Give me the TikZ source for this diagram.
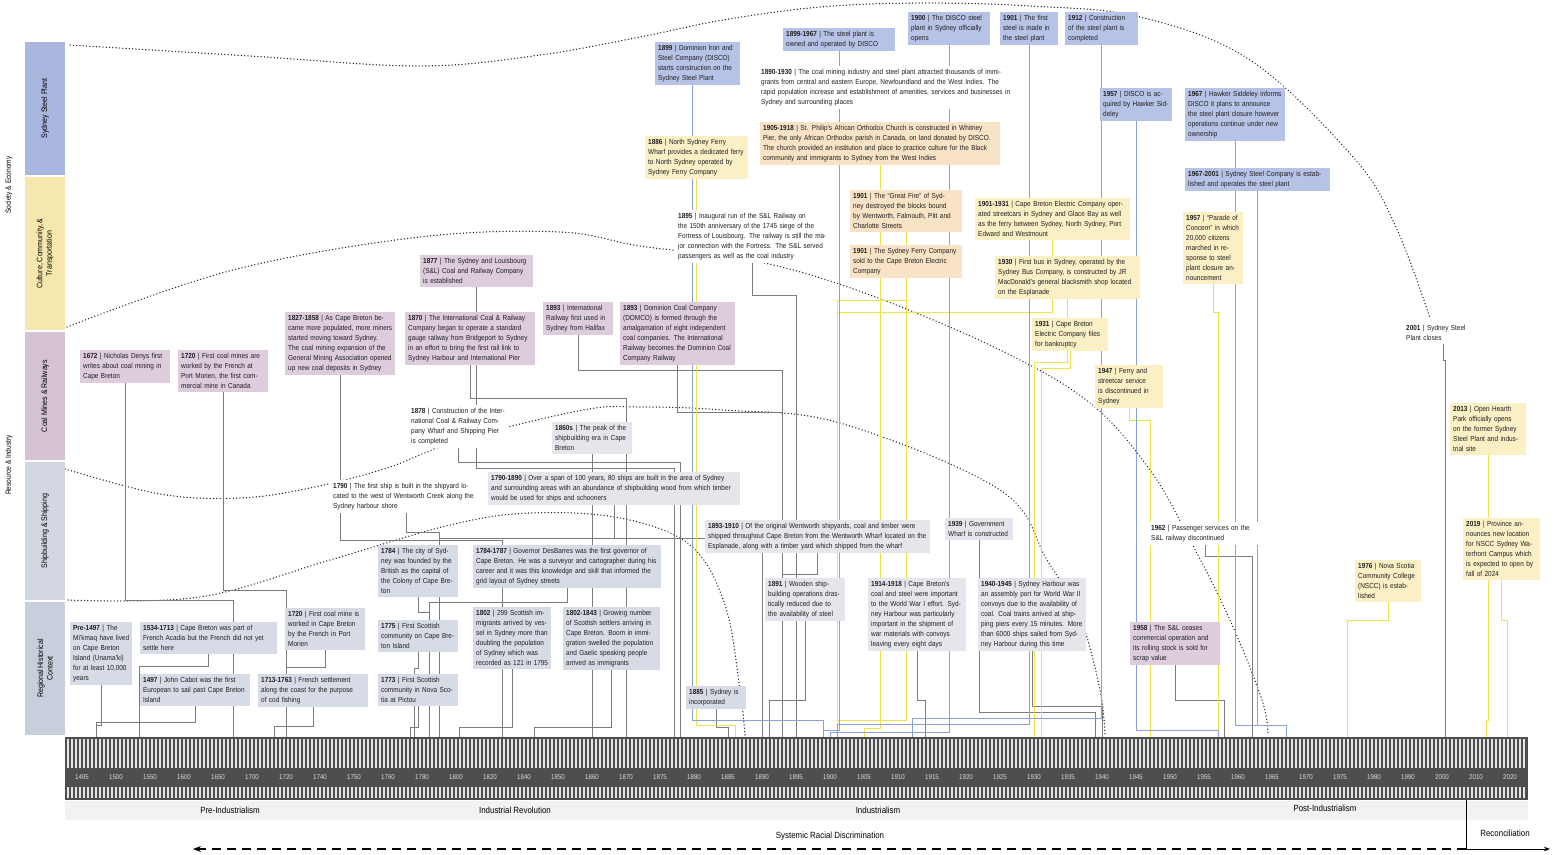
\documentclass[tikz,border=0pt]{standalone}
\usepackage{fontspec}
\setmainfont{Liberation Sans}[FakeStretch=0.88]
\usetikzlibrary{arrows.meta}

\pgfdeclarelayer{bg}
\pgfsetlayers{bg,main}

\definecolor{steelc}{HTML}{B7C3E6}
\definecolor{cultc}{HTML}{FBEFC6}
\definecolor{cultoc}{HTML}{F9E3C6}
\definecolor{coalc}{HTML}{DCCCDC}
\definecolor{shipc}{HTML}{E4E6EC}
\definecolor{regnc}{HTML}{D7DBE5}
\definecolor{stripsteel}{HTML}{A9B6DE}
\definecolor{stripcult}{HTML}{F6E7AE}
\definecolor{stripcoal}{HTML}{D5C3D4}
\definecolor{stripship}{HTML}{D3D7E2}
\definecolor{stripreg}{HTML}{C8CEDB}
\definecolor{lkgrey}{HTML}{7C7C7C}
\definecolor{lkblue}{HTML}{8CA0DA}
\definecolor{lkyel}{HTML}{EDE24A}
\definecolor{barc}{HTML}{4E4E4E}

\newcommand{\evfont}{\fontsize{7.3}{10}\selectfont}
\newcommand{\evyr}[1]{\textbf{#1}}

\tikzset{
  ev/.style={font=\evfont, align=left, inner sep=3pt, anchor=north west, text=black!88},
  steel/.style={ev, fill=steelc},
  cult/.style={ev, fill=cultc},
  culto/.style={ev, fill=cultoc},
  coal/.style={ev, fill=coalc},
  ship/.style={ev, fill=shipc},
  regn/.style={ev, fill=regnc},
  bare/.style={ev, fill=white},
  bandlab/.style={rotate=90, minimum height=40pt, inner sep=1pt, align=center,
    font=\fontsize{8}{9.5}\selectfont},
  lk/.style={draw=lkgrey, line width=0.6pt},
  lkb/.style={draw=lkblue, line width=1pt},
  lky/.style={draw=lkyel, line width=1pt},
  dotcurve/.style={draw=black!85, line width=1.4pt, dash pattern=on 0.1pt off 3.2pt, line cap=round},
  yrlab/.style={font=\fontsize{7}{8}\selectfont, text=white!85!black, inner sep=0pt},
  perlab/.style={font=\fontsize{9}{10}\selectfont, inner sep=1pt},
}

\begin{document}
\begin{tikzpicture}[x=1pt,y=-1pt]
\useasboundingbox (0,0) rectangle (1562,854);

% side bands
\node[rotate=90, font=\fontsize{7.5}{9}\selectfont] (soc) at (9,185) {Society \& Economy};
\node[rotate=90, font=\fontsize{7.5}{9}\selectfont] (res) at (9,465) {Resource \& Industry};
\node[bandlab, fill=stripsteel, minimum width=133pt] (bsteel) at (45,108.5) {Sydney Steel Plant};
\node[bandlab, fill=stripcult, minimum width=153pt] (bcult) at (45,253.5) {Culture, Community, \&\\Transportation};
\node[bandlab, fill=stripcoal, minimum width=128pt] (bcoal) at (45,396) {Coal Mines \& Railways};
\node[bandlab, fill=stripship, minimum width=138pt] (bship) at (45,531) {Shipbuilding \& Shipping};
\node[bandlab, fill=stripreg, minimum width=133pt] (breg) at (45,668.5) {Regional Historical\\Context};

% timeline bar
\node[fill=barc, minimum width=1463pt, minimum height=63pt, inner sep=0pt, anchor=north west] (bar) at (65,737) {};
\foreach \x in {68,72,...,1526} {
  \draw[white!90!black, line width=1.3pt] (\x,739) -- (\x,768);
  \draw[white!90!black, line width=1.3pt] (\x,787) -- (\x,798);
}
\foreach \yy [count=\i from 0] in {1495,1500,1550,1600,1650,1700,1720,1740,1750,1760,1780,1800,1820,1840,1850,1860,1870,1875,1880,1885,1890,1895,1900,1905,1910,1915,1920,1925,1930,1935,1940,1945,1950,1955,1960,1965,1970,1975,1980,1990,2000,2010,2020}
  \node[yrlab] (yl\i) at ({82+34*\i},777) {\yy};

% periods
\fill[gray!10] (65,801) rectangle (1528,820);
\node[perlab] (pre) at (230,810) {Pre-Industrialism};
\node[perlab] (irev) at (515,810) {Industrial Revolution};
\node[perlab] (ind) at (878,810) {Industrialism};
\node[perlab] (post) at (1325,808) {Post-Industrialism};
\node[perlab] (sysrd) at (830,836) {Systemic Racial Discrimination};
\node[perlab] (recon) at (1505,833) {Reconciliation};

\coordinate (recTop) at (1466,800);
\coordinate (recCorner) at (1466,849);
\coordinate (recEnd) at (1550,849);
\coordinate (sysEnd) at (193,849);
\draw[line width=0.9pt] (recTop) -- (recCorner);
\draw[line width=0.9pt, -{Stealth[length=6pt]}] (recCorner) -- (recEnd);
\draw[line width=1.5pt, dash pattern=on 9pt off 6pt, -{Stealth[length=8pt]}] (recCorner) -- (sysEnd);

% year anchors on the bar
\foreach \yy/\x in {1497/96,1534/139,1672/233,1713/274,1720/286,1773/410,1775/414,1784/429,1790/439,
  1802/459,1827/502,1843/534,1860/592,1870/626,1877/674,1878/680,1885/728,1886/735,1890/762,
  1891/769,1893/782,1895/796,1899/823,1900/830,1901/837,1905/864,1912/912,1914/925,1930/1034,
  1931/1041,1939/1095,1940/1102,1947/1150,1957/1218,1958/1224,1962/1252,1967/1286,1976/1347,
  2001/1445,2013/1486,2019/1507}
  \coordinate (t\yy) at (\x,737);

% Sydney Steel Plant
\node[steel, text width=79pt] (b1) at (655,42) {\evyr{1899} | Dominion Iron and Steel Company (DISCO) starts construction on the Sydney Steel Plant};
\node[steel, text width=106pt] (b2) at (783,28) {\evyr{1899-1967} | The steel plant is owned and operated by DISCO};
\node[steel, text width=76pt] (b3) at (908,12) {\evyr{1900} | The DISCO steel plant in Sydney officially opens};
\node[steel, text width=52pt] (b4) at (1000,12) {\evyr{1901} | The first steel is made in the steel plant};
\node[steel, text width=67pt] (b5) at (1065,12) {\evyr{1912} | Construction of the steel plant is completed};
\node[steel, text width=66pt] (b6) at (1100,88) {\evyr{1957} | DISCO is acquired by Hawker Siddeley};
\node[steel, text width=94pt] (b7) at (1185,88) {\evyr{1967} | Hawker Siddeley informs DISCO it plans to announce the steel plant closure however operations continue under new ownership};
\node[steel, text width=139pt] (b8) at (1185,168) {\evyr{1967-2001} | Sydney Steel Company is established and operates the steel plant};
\node[bare, text width=252pt] (t1) at (758,66) {\evyr{1890-1930} | The coal mining industry and steel plant attracted thousands of immigrants from central and eastern Europe, Newfoundland and the West Indies. The rapid population increase and establishment of amenities, services and businesses in Sydney and surrounding places};
\node[bare, text width=74pt] (t3) at (1403,322) {\evyr{2001} | Sydney Steel Plant closes};

% Culture, Community, & Transportation
\node[cult, text width=97pt] (y1) at (645,136) {\evyr{1886} | North Sydney Ferry Wharf provides a dedicated ferry to North Sydney operated by Sydney Ferry Company};
\node[culto, text width=234pt] (y2) at (760,122) {\evyr{1905-1918} | St. Philip's African Orthodox Church is constructed in Whitney Pier, the only African Orthodox parish in Canada, on land donated by DISCO. The church provided an institution and place to practice culture for the Black community and immigrants to Sydney from the West Indies};
\node[culto, text width=106pt] (y3) at (850,190) {\evyr{1901} | The “Great Fire” of Sydney destroyed the blocks bound by Wentworth, Falmouth, Pitt and Charlotte Streets};
\node[culto, text width=106pt] (y4) at (850,245) {\evyr{1901} | The Sydney Ferry Company sold to the Cape Breton Electric Company};
\node[bare, text width=149pt] (t2) at (675,210) {\evyr{1895} | Inaugural run of the S\&L Railway on the 150th anniversary of the 1745 siege of the Fortress of Louisbourg. The railway is still the major connection with the Fortress. The S\&L served passengers as well as the coal industry};
\node[cult, text width=149pt] (y5) at (975,198) {\evyr{1901-1931} | Cape Breton Electric Company operated streetcars in Sydney and Glace Bay as well as the ferry between Sydney, North Sydney, Port Edward and Westmount};
\node[cult, text width=139pt] (y6) at (995,256) {\evyr{1930} | First bus in Sydney, operated by the Sydney Bus Company, is constructed by JR MacDonald's general blacksmith shop located on the Esplanade};
\node[cult, text width=70pt] (y7) at (1032,318) {\evyr{1931} | Cape Breton Electric Company files for bankruptcy};
\node[cult, text width=62pt] (y8) at (1095,365) {\evyr{1947} | Ferry and streetcar service is discontinued in Sydney};
\node[cult, text width=54pt] (y9) at (1183,212) {\evyr{1957} | “Parade of Concern” in which 20,000 citizens marched in response to steel plant closure announcement};
\node[cult, text width=60pt] (y10) at (1355,560) {\evyr{1976} | Nova Scotia Community College (NSCC) is established};
\node[cult, text width=70pt] (y11) at (1450,403) {\evyr{2013} | Open Hearth Park officially opens on the former Sydney Steel Plant and industrial site};
\node[cult, text width=71pt] (y12) at (1463,518) {\evyr{2019} | Province announces new location for NSCC Sydney Waterfront Campus which is expected to open by fall of 2024};

% Coal Mines & Railways
\node[coal, text width=84pt] (m1) at (80,350) {\evyr{1672} | Nicholas Denys first writes about coal mining in Cape Breton};
\node[coal, text width=84pt] (m2) at (178,350) {\evyr{1720} | First coal mines are worked by the French at Port Morien, the first commercial mine in Canada};
\node[coal, text width=104pt] (m3) at (285,312) {\evyr{1827-1858} | As Cape Breton became more populated, more miners started moving toward Sydney. The coal mining expansion of the General Mining Association opened up new coal deposits in Sydney};
\node[coal, text width=107pt] (m4) at (420,255) {\evyr{1877} | The Sydney and Louisbourg (S\&L) Coal and Railway Company is established};
\node[coal, text width=124pt] (m5) at (405,312) {\evyr{1870} | The International Coal \& Railway Company began to operate a standard gauge railway from Bridgeport to Sydney in an effort to bring the first rail link to Sydney Harbour and International Pier};
\node[coal, text width=64pt] (m6) at (543,302) {\evyr{1893} | International Railway first used in Sydney from Halifax};
\node[coal, text width=109pt] (m7) at (620,302) {\evyr{1893} | Dominion Coal Company (DOMCO) is formed through the amalgamation of eight independent coal companies. The International Railway becomes the Dominion Coal Company Railway};
\node[coal, text width=84pt] (m8) at (1130,622) {\evyr{1958} | The S\&L ceases commercial operation and its rolling stock is sold for scrap value};
\node[bare, text width=94pt] (t4) at (408,405) {\evyr{1878} | Construction of the International Coal \& Railway Company Wharf and Shipping Pier is completed};

% Shipbuilding & Shipping
\node[ship, text width=74pt] (s1) at (552,422) {\evyr{1860s} | The peak of the shipbuilding era in Cape Breton};
\node[bare, text width=146pt] (s2) at (330,480) {\evyr{1790} | The first ship is built in the shipyard located to the west of Wentworth Creek along the Sydney harbour shore};
\node[ship, text width=246pt] (s3) at (488,472) {\evyr{1790-1890} | Over a span of 100 years, 80 ships are built in the area of Sydney and surrounding areas with an abundance of shipbuilding wood from which timber would be used for ships and schooners};
\node[ship, text width=219pt] (s4) at (705,520) {\evyr{1893-1910} | Of the original Wentworth shipyards, coal and timber were shipped throughout Cape Breton from the Wentworth Wharf located on the Esplanade, along with a timber yard which shipped from the wharf};
\node[ship, text width=62pt] (s5) at (945,518) {\evyr{1939} | Government Wharf is constructed};
\node[ship, text width=74pt] (s6) at (765,578) {\evyr{1891} | Wooden shipbuilding operations drastically reduced due to the availability of steel};
\node[ship, text width=92pt] (s7) at (868,578) {\evyr{1914-1918} | Cape Breton's coal and steel were important to the World War I effort. Sydney Harbour was particularly important in the shipment of war materials with convoys leaving every eight days};
\node[ship, text width=102pt] (s8) at (978,578) {\evyr{1940-1945} | Sydney Harbour was an assembly port for World War II convoys due to the availability of coal. Coal trains arrived at shipping piers every 15 minutes. More than 6000 ships sailed from Sydney Harbour during this time};
\node[bare, text width=109pt] (t5) at (1148,522) {\evyr{1962} | Passenger services on the S\&L railway discontinued};

% Regional Historical Context
\node[regn, text width=56pt] (r1) at (70,622) {\evyr{Pre-1497} | The Mi'kmaq have lived on Cape Breton Island (Unama'ki) for at least 10,000 years};
\node[regn, text width=131pt] (r2) at (140,622) {\evyr{1534-1713} | Cape Breton was part of French Acadia but the French did not yet settle here};
\node[regn, text width=104pt] (r3) at (140,674) {\evyr{1497} | John Cabot was the first European to sail past Cape Breton Island};
\node[regn, text width=104pt] (r5) at (258,674) {\evyr{1713-1763} | French settlement along the coast for the purpose of cod fishing};
\node[regn, text width=74pt] (r4) at (285,608) {\evyr{1720} | First coal mine is worked in Cape Breton by the French in Port Morien};
\node[regn, text width=74pt] (r6) at (378,545) {\evyr{1784} | The city of Sydney was founded by the British as the capital of the Colony of Cape Breton};
\node[regn, text width=74pt] (r7) at (378,620) {\evyr{1775} | First Scottish community on Cape Breton Island};
\node[regn, text width=74pt] (r8) at (378,674) {\evyr{1773} | First Scottish community in Nova Scotia at Pictou};
\node[regn, text width=182pt] (r9) at (473,545) {\evyr{1784-1787} | Governor DesBarres was the first governor of Cape Breton. He was a surveyor and cartographer during his career and it was this knowledge and skill that informed the grid layout of Sydney streets};
\node[regn, text width=72pt] (r10) at (473,607) {\evyr{1802} | 299 Scottish immigrants arrived by vessel in Sydney more than doubling the population of Sydney which was recorded as 121 in 1795};
\node[regn, text width=91pt] (r11) at (563,607) {\evyr{1802-1843} | Growing number of Scottish settlers arriving in Cape Breton. Boom in immigration swelled the population and Gaelic speaking people arrived as immigrants};
\node[regn, text width=54pt] (r12) at (686,686) {\evyr{1885} | Sydney is incorporated};

\begin{pgfonlayer}{bg}
% dotted period curves
\draw[dotcurve] plot[smooth, tension=0.6] coordinates {(70,45) (250,56) (420,66) (540,55) (640,37) (723,20) (820,7) (920,3) (1030,6) (1140,17) (1250,60) (1353,157) (1395,225) (1430,318)};
\draw[dotcurve] plot[smooth, tension=0.6] coordinates {(67,327) (233,270) (420,237) (560,232) (640,246) (760,262) (870,295) (1000,350) (1090,403) (1150,470) (1190,540) (1230,620) (1262,700) (1268,735)};
\draw[dotcurve] plot[smooth, tension=0.6] coordinates {(62,468) (160,494) (240,498) (310,488) (387,468) (460,440) (583,410) (640,407) (723,410) (840,423) (1000,490) (1047,560) (1080,617) (1100,690) (1105,735)};
\draw[dotcurve] plot[smooth, tension=0.6] coordinates {(68,600) (200,597) (330,560) (450,525) (530,513) (620,518) (690,545) (725,605) (740,690) (745,735)};

% regional
\draw[lk] (r1.south) -- (r1.south |- 0,725) -| (t1497);
\draw[lk] (r2.south) -- (r2.south |- 0,666) -| (t1534);
\draw[lk] (r3.south) -- (r3.south |- 0,722) -| (t1497);
\draw[lk] (r4.south) -- (r4.south |- 0,667) -| (t1720);
\draw[lk] (r5.south) -- (r5.south |- 0,726) -| (t1713);
\draw[lk] (r6.south) -- (r6.south |- 0,612) -| (t1784);
\draw[lk] (r7.south) -- (r7.south |- 0,668) -| (t1775);
\draw[lk] (r8.south) -- (r8.south |- 0,727) -| (t1773);
\draw[lk] (r9.south) -- (r9.south |- 0,602) -| (t1784);
\draw[lk] (r10.south) -- (r10.south |- 0,727) -| (t1802);
\draw[lk] (r11.south) -- (r11.south |- 0,727) -| (t1843);
\draw[lk] (r12.south) -- (r12.south |- 0,727) -| (t1885);
% coal
\draw[lk] (m1.south) -- (m1.south |- 0,600) -| (t1672);
\draw[lk] (m2.south) -- (m2.south |- 0,590) -| (t1720);
\draw[lk] (m3.south) -- (m3.south |- 0,540) -| (t1827);
\draw[lk] (m4.south) -- (m4.south |- 0,468) -| (t1877);
\draw[lk] (m5.south) -- (m5.south |- 0,398) -| (t1870);
\draw[lk] (m6.south) -- (m6.south |- 0,370) -| (t1893);
\draw[lk] (m7.south) -- (m7.south |- 0,412) -| (t1893);
\draw[lk] (m8.south) -- (m8.south |- 0,700) -| (t1958);
\draw[lk] (t4.south) -- (t4.south |- 0,462) -| (t1878);
% shipping
\draw[lk] (s1.south) -- (s1.south |- 0,700) -| (t1860);
\draw[lk] (s2.south) -- (s2.south |- 0,532) -| (t1790);
\draw[lk] (s3.south) -- (s3.south |- 0,538) -| (t1790);
\draw[lk] (s3.south) -- (s3.south |- 0,538) -| (t1890);
\draw[lk] (s4.south) -- (s4.south |- 0,574) -| (t1893);
\draw[lk] (s5.south) -- (s5.south |- 0,712) -| (t1939);
\draw[lk] (s6.south) -- (s6.south |- 0,700) -| (t1891);
\draw[lk] (s7.south) -- (s7.south |- 0,700) -| (t1914);
\draw[lk] (s8.south) -- (s8.south |- 0,706) -| (t1940);
\draw[lk] (t5.south) -- (t5.south |- 0,556) -| (t1962);
% culture
\draw[lky] (y1.south) -- (y1.south |- 0,725) -| (t1886);
\draw[lky] (y2.south) -- (y2.south |- 0,728) -| (t1905);
\draw[lky] (y3.south) -- (y3.south |- 0,720) -| (t1901);
\draw[lky] (y4.south) -- (y4.south |- 0,300) -| (t1901);
\draw[lk] (t2.south) -- (t2.south |- 0,295) -| (t1895);
\draw[lky] (y5.south) -- (y5.south |- 0,312) -| (t1901);
\draw[lky] (y6.south) -- (y6.south |- 0,362) -| (t1930);
\draw[lky] (y7.south) -- (y7.south |- 0,368) -| (t1931);
\draw[lky] (y8.south) -- (y8.south |- 0,420) -| (t1947);
\draw[lky] (y9.south) -- (y9.south |- 0,312) -| (t1957);
\draw[lky] (y10.south) -- (y10.south |- 0,620) -| (t1976);
\draw[lky] (y11.south) -- (y11.south |- 0,720) -| (t2013);
\draw[lky] (y12.south) -- (y12.south |- 0,620) -| (t2019);
\draw[lk] (t3.south) -- (t3.south |- 0,360) -| (t2001);
% steel
\draw[lkb] ([xshift=-5pt]b1.south) -- ([xshift=-5pt]b1.south |- 0,720) -| (t1899);
\draw[lkb] (b2.south) -- (b2.south |- 0,730) -| (t1899);
\draw[lkb] (b3.south) -- (b3.south |- 0,732) -| (t1900);
\draw[lkb] (b4.south) -- (b4.south |- 0,724) -| (t1901);
\draw[lkb] (b5.south) -- (b5.south |- 0,718) -| (t1912);
\draw[lkb] (b6.south) -- (b6.south |- 0,730) -| (t1957);
\draw[lkb] (b7.south) -- (b7.south |- 0,725) -| (t1967);
\draw[lkb] (b8.south) -- (b8.south |- 0,725) -| (t1967);
\end{pgfonlayer}
\end{tikzpicture}
\end{document}
